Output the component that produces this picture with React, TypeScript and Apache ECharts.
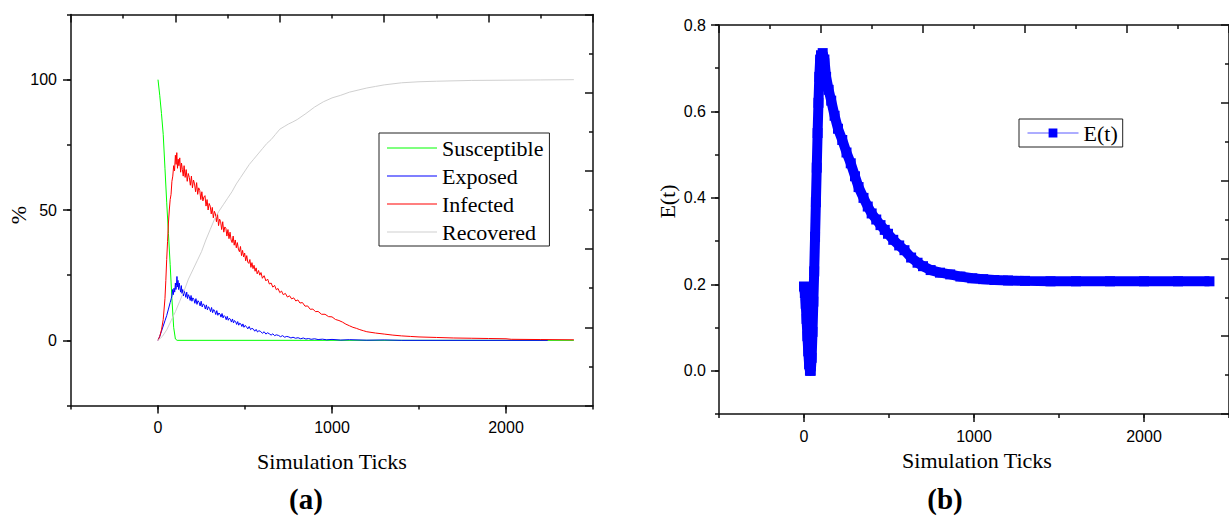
import React, { useEffect, useRef } from "react";
import * as echarts from "echarts";

// ---- data ----
const SUSCEPTIBLE: [number, number][] = [
  [0, 100], [10, 94], [20, 87], [30, 79], [40, 66], [50, 53], [60, 41], [70, 29],
  [80, 16], [90, 5], [100, 0.5], [110, 0], [2390, 0],
];

const EXPOSED: [number, number][] = [
  [0, 0], [10, 1.5], [20, 3.5], [30, 5.5], [40, 7.5], [50, 9.5], [60, 12], [70, 14.5], [76, 16],
  [80, 17], [84, 19.5], [88, 17.5], [92, 20], [96, 18.5], [100, 22], [103, 19.5], [106, 21],
  [109, 24.5], [112, 20.5], [115, 23], [118, 19.5], [122, 22], [126, 20], [130, 18.5], [134, 21],
  [138, 18], [142, 19.5], [146, 17], [150, 19], [155, 18], [160, 16.5], [165, 18.5], [170, 16],
  [175, 17.5], [180, 16.8], [185, 15.3], [190, 17.2], [195, 15], [200, 16.3], [206, 15.8], [212, 14.2],
  [218, 16], [224, 13.8], [230, 15.2], [236, 14.6], [242, 13.2], [248, 15], [254, 12.8], [260, 14],
  [266, 13.5], [272, 12], [278, 13.6], [284, 11.7], [290, 12.9], [296, 12.3], [302, 11], [308, 12.6],
  [314, 10.6], [320, 11.8], [326, 11.2], [332, 9.9], [338, 11.4], [344, 9.6], [350, 10.5], [356, 10.1],
  [362, 8.9], [368, 10.3], [374, 8.6], [380, 9.5], [386, 9.1], [392, 7.9], [398, 9.2], [404, 7.7],
  [410, 8.5], [416, 8.1], [422, 7], [428, 8.2], [434, 6.7], [440, 7.6], [446, 7.2], [452, 6.1],
  [458, 7.2], [464, 5.8], [470, 6.6], [476, 6.3], [482, 5.3], [488, 6.3], [494, 5], [500, 5.7],
  [508, 5.3], [516, 4.4], [524, 5.3], [532, 4.1], [540, 4.6], [548, 4.3], [556, 3.5], [564, 4.2],
  [572, 3.2], [580, 3.7], [590, 3.4], [600, 2.7], [610, 3.3], [620, 2.4], [630, 2.9], [640, 2.5],
  [650, 2], [660, 2.5], [670, 1.8], [680, 2.1], [692, 1.9], [704, 1.4], [716, 1.8], [728, 1.2],
  [740, 1.5], [752, 1.3], [764, 0.9], [776, 1.2], [790, 0.8], [805, 1], [820, 0.6], [835, 0.9],
  [850, 0.5], [865, 0.7], [880, 0.4], [900, 0.6], [920, 0.3], [945, 0.45], [970, 0.2], [1000, 0.35],
  [1050, 0.1], [1100, 0.25], [1200, 0.05], [1300, 0.15], [1400, 0], [2240, 0],
];

const INFECTED: [number, number][] = [
  [0, 0], [10, 1.5], [20, 4], [30, 8], [40, 16], [45, 23], [50, 31], [55, 38], [60, 45], [65, 50],
  [70, 54], [75, 56], [80, 61], [85, 63], [90, 67], [95, 65], [100, 71], [104, 67.5], [108, 72],
  [112, 66], [116, 69.5], [120, 67], [125, 70], [130, 64.5], [135, 68], [140, 65.5], [145, 63],
  [150, 67], [156, 62.5], [162, 65.5], [168, 61], [174, 64], [180, 62.5], [186, 59.5], [192, 63],
  [198, 58.5], [204, 61.5], [210, 60], [216, 57], [222, 60.5], [228, 56], [234, 58.5], [240, 57.5],
  [246, 54], [252, 57], [258, 53.5], [264, 55], [270, 55.5], [276, 51.5], [282, 54], [288, 50],
  [294, 52.5], [300, 51.5], [306, 48.5], [312, 51], [318, 47], [324, 49.5], [330, 48.5], [336, 45.5],
  [342, 48.5], [348, 44], [354, 46.5], [360, 45.5], [366, 42.5], [372, 45.5], [378, 41.5], [384, 43.5],
  [390, 43], [396, 40], [402, 42.5], [408, 39], [414, 41.5], [420, 38.5], [426, 37.5], [432, 40],
  [438, 36.5], [444, 38.5], [450, 35.5], [456, 37.5], [462, 35], [468, 34], [474, 36], [480, 32.5],
  [486, 34.5], [492, 32], [498, 33.5], [504, 30.5], [510, 32.5], [516, 30], [522, 29.5], [528, 31],
  [534, 28], [540, 29.8], [546, 27.5], [552, 28.8], [558, 26.5], [564, 27.8], [570, 25.5], [578, 26.8],
  [585, 25], [592, 26], [600, 23.8], [610, 24.8], [620, 22.8], [630, 23.5], [640, 21.6], [650, 22],
  [660, 20.4], [670, 21.1], [680, 19.4], [690, 19.9], [700, 18.3], [710, 18.9], [720, 17.5], [732, 18],
  [744, 16.6], [756, 17.1], [768, 15.9], [780, 16.3], [792, 15.1], [804, 15.5], [816, 14.3], [830, 14.5],
  [845, 13.1], [860, 13.2], [875, 11.9], [890, 12], [905, 11], [920, 11.1], [940, 10], [960, 10],
  [980, 9.1], [1000, 9], [1020, 8], [1040, 7.6], [1060, 7], [1080, 6.2], [1100, 5.6], [1120, 5],
  [1140, 4.6], [1160, 4.1], [1180, 3.7], [1200, 3.3], [1250, 2.8], [1300, 2.4], [1350, 2], [1400, 1.7],
  [1450, 1.5], [1500, 1.3], [1600, 1.1], [1700, 0.9], [1800, 0.8], [1900, 0.7], [2000, 0.6],
  [2030, 0.4], [2200, 0.3], [2390, 0.2],
];

const RECOVERED: [number, number][] = [
  [0, 0], [25, 1.5], [50, 4], [75, 7.5], [100, 11], [125, 15], [150, 19], [175, 23.5], [200, 27],
  [225, 30.5], [250, 34], [275, 38.5], [300, 42.5], [325, 46.5], [350, 49.5], [375, 52], [400, 54.5],
  [425, 57], [450, 60], [475, 62.5], [500, 65], [525, 67.5], [550, 69.5], [575, 71.5], [600, 73.5],
  [625, 75.5], [650, 77], [675, 79], [700, 81], [725, 82], [750, 83], [775, 83.8], [800, 84.7],
  [850, 87], [900, 89.5], [950, 91.5], [1000, 93], [1050, 94], [1100, 95.2], [1150, 96], [1200, 96.8],
  [1250, 97.4], [1300, 98], [1400, 98.8], [1500, 99.2], [1600, 99.4], [1800, 99.7], [2000, 99.8],
  [2200, 99.9], [2390, 100],
];

const E_T: [number, number][] = [
  [0, 0.195], [5, 0.18], [10, 0.155], [15, 0.12], [20, 0.08], [25, 0.045], [30, 0.015], [35, 0],
  [40, 0], [45, 0.03], [50, 0.09], [55, 0.16], [60, 0.23], [65, 0.31], [70, 0.39], [75, 0.47],
  [80, 0.55], [85, 0.62], [90, 0.68], [95, 0.72], [100, 0.73], [110, 0.735], [120, 0.72], [130, 0.68],
  [145, 0.65], [160, 0.625], [180, 0.59], [200, 0.56], [225, 0.534], [250, 0.505], [275, 0.48],
  [300, 0.45], [321, 0.425], [350, 0.4], [375, 0.38], [398, 0.364], [425, 0.35], [450, 0.337],
  [475, 0.326], [494, 0.317], [525, 0.303], [560, 0.29], [591, 0.279], [630, 0.262], [668, 0.25],
  [700, 0.242], [745, 0.233], [800, 0.227], [860, 0.223], [920, 0.218], [990, 0.214], [1054, 0.212],
  [1120, 0.21], [1200, 0.209], [1300, 0.208], [1450, 0.207], [1600, 0.207], [1800, 0.207],
  [2000, 0.207], [2200, 0.207], [2385, 0.207],
];

const X_MAJOR = [0, 1000, 2000];
const Y_MAJOR_A = [0, 50, 100];
const Y_MAJOR_B = [0, 0.2, 0.4, 0.6, 0.8];
const LEGEND_A = ["Susceptible", "Exposed", "Infected", "Recovered"];
const COLORS_A = ["#00ff00", "#0000ff", "#ff0000", "#d0d0d0"];

const AX = "#111";
const SERIF = "'Liberation Serif', 'Times New Roman', serif";
const SANS = "'Liberation Sans', Arial, sans-serif";
const axLine = { show: true, onZero: false, lineStyle: { color: AX, width: 1.5 } };
const noLine = { show: false, onZero: false };
const tickStyle = { color: AX, width: 1.5 };
const lbl = { fontFamily: SANS, fontSize: 16, color: "#000" };

function mainX(grid: number) {
  return {
    gridIndex: grid, type: "value", position: "bottom", min: -500, max: 2500,
    axisLine: axLine,
    axisTick: { show: true, customValues: X_MAJOR, length: 8, lineStyle: tickStyle },
    axisLabel: { customValues: X_MAJOR, margin: 14, formatter: (v: number) => String(v), ...lbl },
    splitLine: { show: false },
  };
}
function minorX(grid: number) {
  return {
    gridIndex: grid, type: "value", position: "bottom", min: -500, max: 2500, interval: 500,
    axisLine: noLine, axisTick: { show: true, length: 4, lineStyle: tickStyle },
    axisLabel: { show: false }, splitLine: { show: false },
  };
}
function mirror(grid: number, pos: string) {
  return {
    gridIndex: grid, type: "value", position: pos, min: 0, max: 5, interval: 1,
    axisLine: axLine,
    axisTick: { show: true, inside: true, length: 8, lineStyle: tickStyle },
    minorTick: { show: true, splitNumber: 2, length: 4, lineStyle: tickStyle },
    axisLabel: { show: false }, splitLine: { show: false },
  };
}

export default function App() {
  const ref = useRef<HTMLDivElement>(null);
  useEffect(() => {
    if (!ref.current) return;
    const chart = echarts.init(ref.current, undefined, { renderer: "svg" });
    const seriesA = [SUSCEPTIBLE, EXPOSED, INFECTED, RECOVERED].map((d, i) => ({
      type: "line", name: LEGEND_A[i], xAxisIndex: 0, yAxisIndex: 0,
      data: d, symbol: "none", showSymbol: false,
      lineStyle: { width: 1, color: COLORS_A[i] }, itemStyle: { color: COLORS_A[i] },
    }));
    const option: any = {
      animation: false,
      backgroundColor: "#fff",
      grid: [
        { left: 71, top: 14.5, width: 522, height: 391 },
        { left: 719, top: 25, width: 518, height: 389 },
      ],
      xAxis: [mainX(0), minorX(0), mirror(0, "top"), mainX(1), minorX(1), mirror(1, "top")],
      yAxis: [
        {
          gridIndex: 0, type: "value", position: "left", min: -25, max: 125,
          axisLine: axLine,
          axisTick: { show: true, customValues: Y_MAJOR_A, length: 8, lineStyle: tickStyle },
          axisLabel: { customValues: Y_MAJOR_A, margin: 14, ...lbl },
          splitLine: { show: false },
        },
        {
          gridIndex: 0, type: "value", position: "left", min: -25, max: 125, interval: 25,
          axisLine: noLine, axisTick: { show: true, length: 4, lineStyle: tickStyle },
          axisLabel: { show: false }, splitLine: { show: false },
        },
        mirror(0, "right"),
        {
          gridIndex: 1, type: "value", position: "left", min: -0.1, max: 0.8,
          axisLine: axLine,
          axisTick: { show: true, customValues: Y_MAJOR_B, length: 8, lineStyle: tickStyle },
          axisLabel: { customValues: Y_MAJOR_B, margin: 13, formatter: (v: number) => v.toFixed(1), ...lbl },
          splitLine: { show: false },
        },
        {
          gridIndex: 1, type: "value", position: "left", min: -0.1, max: 0.8, interval: 0.1,
          axisLine: noLine, axisTick: { show: true, length: 4, lineStyle: tickStyle },
          axisLabel: { show: false }, splitLine: { show: false },
        },
        mirror(1, "right"),
      ],
      legend: [
        {
          data: LEGEND_A.map((n) => ({ name: n, icon: "rect" })),
          orient: "vertical", left: 379, top: 133,
          itemWidth: 50, itemHeight: 1, itemGap: 6, padding: [4, 6, 3, 8],
          borderColor: "#222", borderWidth: 1, selectedMode: false,
          textStyle: { fontFamily: SERIF, fontSize: 22, lineHeight: 22, color: "#000" },
        },
        {
          data: ["E(t)"], orient: "vertical", left: 1019, top: 119,
          itemWidth: 51, itemHeight: 11, padding: [3, 5, 3, 8],
          borderColor: "#222", borderWidth: 1, selectedMode: false,
          lineStyle: { width: 1, color: "#5a5aff" }, itemStyle: { color: "#0000ff" },
          textStyle: { fontFamily: SERIF, fontSize: 22, lineHeight: 22, color: "#000" },
        },
      ],
      series: [
        ...seriesA,
        {
          type: "line", name: "E(t)", xAxisIndex: 3, yAxisIndex: 3, data: E_T,
          symbol: "rect", symbolSize: 10, showSymbol: true, showAllSymbol: true,
          lineStyle: { width: 10, color: "#0000ff" }, itemStyle: { color: "#0000ff" },
        },
      ],
      graphic: [
        { type: "text", x: 18, y: 215, rotation: Math.PI / 2,
          style: { text: "%", fontFamily: SERIF, fontSize: 22, fill: "#000", align: "center", verticalAlign: "middle" } },
        { type: "text", x: 667, y: 201.5, rotation: Math.PI / 2,
          style: { text: "E(t)", fontFamily: SERIF, fontSize: 22, fill: "#000", align: "center", verticalAlign: "middle" } },
        { type: "text", x: 332, y: 461.5,
          style: { text: "Simulation Ticks", fontFamily: SERIF, fontSize: 22, fill: "#000", align: "center", verticalAlign: "middle" } },
        { type: "text", x: 977, y: 460,
          style: { text: "Simulation Ticks", fontFamily: SERIF, fontSize: 22, fill: "#000", align: "center", verticalAlign: "middle" } },
        { type: "text", x: 306, y: 499,
          style: { text: "(a)", fontFamily: SERIF, fontSize: 29, fontWeight: "bold", fill: "#000", align: "center", verticalAlign: "middle" } },
        { type: "text", x: 945, y: 499,
          style: { text: "(b)", fontFamily: SERIF, fontSize: 29, fontWeight: "bold", fill: "#000", align: "center", verticalAlign: "middle" } },
      ],
    };
    chart.setOption(option);
    return () => chart.dispose();
  }, []);
  return (
    <div
      ref={ref}
      style={{ position: "fixed", left: 0, top: 0, width: 1229, height: 517, background: "#fff" }}
    />
  );
}
